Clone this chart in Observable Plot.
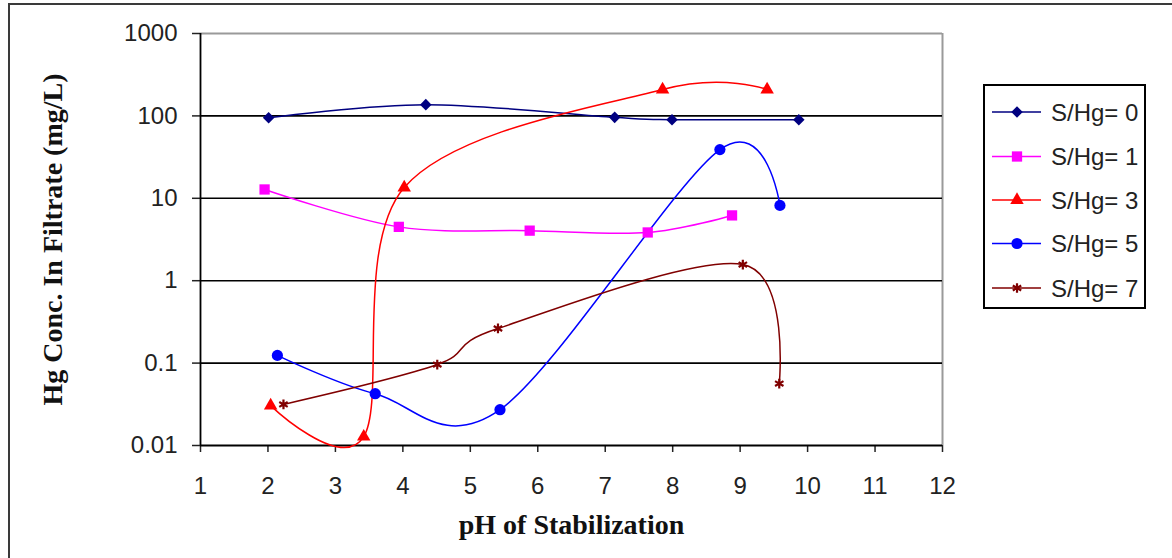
<!DOCTYPE html>
<html>
<head>
<meta charset="utf-8">
<script src="https://cdn.jsdelivr.net/npm/d3@7"></script>
<script src="https://cdn.jsdelivr.net/npm/@observablehq/plot@0.6"></script>
<style>
  html, body { margin: 0; padding: 0; background: #fff; overflow: hidden; }
  #wrap { position: relative; width: 1172px; height: 558px; overflow: hidden; }
  #border { position: absolute; left: 8px; top: 3px; width: 1200px; height: 600px;
            border: 2px solid #3a3a3a; box-sizing: border-box; }
  #chart { position: absolute; left: 0; top: 0; }
  #legend { position: absolute; left: 0; top: 0; }
</style>
</head>
<body>
<div id="wrap">
  <div id="border"></div>
  <div id="chart"></div>
  <svg id="legend" width="1172" height="558"></svg>
</div>
<script>
// Hg concentration in filtrate vs. stabilization pH, one series per S/Hg ratio
const ph0 = [2.01, 4.34, 7.14, 7.99, 9.87];
const hg0 = [95, 137, 96, 90, 90];

const ph1 = [1.95, 3.94, 5.88, 7.63, 8.88];
const hg1 = [12.8, 4.5, 4.05, 3.85, 6.2];

const ph3 = [2.04, 3.42, 4.02, 7.85, 9.40];
const hg3 = [0.0305, 0.0128, 13.5, 209, 209];

const ph5 = [2.14, 3.59, 5.44, 8.70, 9.59];
const hg5 = [0.124, 0.0425, 0.0272, 39, 8.2];

const ph7 = [2.23, 4.51, 5.41, 9.04, 9.58];
const hg7 = [0.0315, 0.096, 0.263, 1.57, 0.0565];

const seriesNames = ["S/Hg= 0", "S/Hg= 1", "S/Hg= 3", "S/Hg= 5", "S/Hg= 7"];
const seriesColors = ["#000080", "#ff00ff", "#ff0000", "#0000ff", "#800000"];
const seriesSymbols = ["diamond2", "square", "triangle", "circle", "asterisk"];
const seriesRadius = [5.2, 5.8, 5, 5.6, 4.6];

const xTicks = [1, 2, 3, 4, 5, 6, 7, 8, 9, 10, 11, 12];
const yTicks = [0.01, 0.1, 1, 10, 100, 1000];
const gridValues = [0.1, 1, 10, 100];

const xLabel = "pH of Stabilization";
const yLabel = "Hg Conc. In Filtrate (mg/L)";

const phs = [ph0, ph1, ph3, ph5, ph7];
const hgs = [hg0, hg1, hg3, hg5, hg7];
const series = seriesNames.map((name, i) => ({
  name, color: seriesColors[i], symbol: seriesSymbols[i], r: seriesRadius[i],
  rows: phs[i].map((ph, j) => ({ph, hg: hgs[i][j], name}))
}));

const tickFont = "'Liberation Sans', Arial, sans-serif";
const labelFont = "'Liberation Serif', 'Times New Roman', serif";

const marks = [
  // plot-area frame: grey top and right edges
  Plot.ruleY([1000], {stroke: "#9a9a9a", strokeWidth: 2}),
  Plot.ruleX([12], {stroke: "#9a9a9a", strokeWidth: 2}),
  // major gridlines
  Plot.ruleY(gridValues, {stroke: "#000", strokeWidth: 1.6}),
  // axes
  Plot.axisX(xTicks, {tickSize: 7, tickPadding: 24, stroke: "#222", strokeWidth: 1.5,
    fill: "#222", fontSize: 24, fontFamily: tickFont, label: null, tickFormat: d => String(d)}),
  Plot.axisY(yTicks, {tickSize: 8, tickPadding: 15, stroke: "#222", strokeWidth: 1.5,
    fill: "#222", fontSize: 24, fontFamily: tickFont, label: null, tickFormat: d => String(d)}),
  Plot.ruleX([1], {stroke: "#000", strokeWidth: 1.8}),
  Plot.ruleY([0.01], {stroke: "#000", strokeWidth: 1.8}),
  // axis titles
  Plot.text([xLabel], {frameAnchor: "bottom", dy: 88, text: d => d, fontFamily: labelFont,
    fontWeight: "bold", fontSize: 28, fill: "#111"}),
  Plot.text([yLabel], {frameAnchor: "left", dx: -147, rotate: -90, textAnchor: "middle",
    text: d => d, fontFamily: labelFont, fontWeight: "bold", fontSize: 28, fill: "#111"})
];

for (const s of series) {
  marks.push(Plot.line(s.rows, {x: "ph", y: "hg", stroke: s.color, strokeWidth: 1.5,
    curve: "cardinal"}));
}
for (const s of series) {
  const stroked = s.symbol === "asterisk";
  marks.push(Plot.dot(s.rows, {x: "ph", y: "hg", symbol: () => s.symbol, r: s.r,
    fill: stroked ? "none" : s.color, stroke: stroked ? s.color : "none",
    strokeWidth: stroked ? 2.2 : 0}));
}

const chart = Plot.plot({
  width: 1172,
  height: 558,
  marginLeft: 200,
  marginRight: 230,
  marginTop: 33,
  marginBottom: 113,
  style: {background: "transparent", overflow: "visible"},
  x: {domain: [1, 12]},
  y: {type: "log", domain: [0.01, 1000]},
  symbol: {type: "identity"},
  marks
});
document.getElementById("chart").appendChild(chart);

// legend box on the right
const lg = d3.select("#legend");
const box = {x: 984, y: 85, w: 161, h: 223};
lg.append("rect").attr("x", box.x).attr("y", box.y).attr("width", box.w).attr("height", box.h)
  .attr("fill", "#fff").attr("stroke", "#000").attr("stroke-width", 2);
const rowY = [112, 156.5, 200, 243.5, 288];
const symbolTypes = {
  diamond2: d3.symbolDiamond2, square: d3.symbolSquare, triangle: d3.symbolTriangle,
  circle: d3.symbolCircle, asterisk: d3.symbolAsterisk
};
series.forEach((s, i) => {
  const g = lg.append("g").attr("transform", `translate(0,${rowY[i]})`);
  g.append("line").attr("x1", 992).attr("x2", 1041).attr("y1", 0).attr("y2", 0)
    .attr("stroke", s.color).attr("stroke-width", 1.6);
  const stroked = s.symbol === "asterisk";
  g.append("path").attr("transform", "translate(1017,0)")
    .attr("d", d3.symbol(symbolTypes[s.symbol], Math.PI * s.r * s.r)())
    .attr("fill", stroked ? "none" : s.color)
    .attr("stroke", stroked ? s.color : "none").attr("stroke-width", 2.2);
  g.append("text").attr("x", 1051).attr("y", 0).attr("dy", "0.36em")
    .attr("font-family", tickFont).attr("font-size", 24).attr("fill", "#222")
    .text(s.name);
});
</script>
</body>
</html>
